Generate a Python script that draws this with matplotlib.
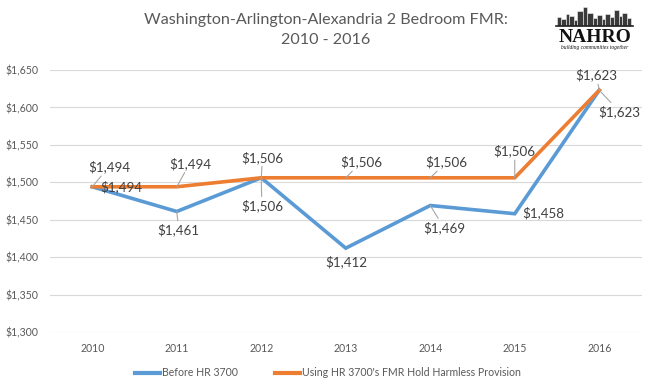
import matplotlib
matplotlib.use("Agg")
import matplotlib.pyplot as plt
from matplotlib.patches import Rectangle

years = ["2010", "2011", "2012", "2013", "2014", "2015", "2016"]
before_hr3700 = [1494, 1461, 1506, 1412, 1469, 1458, 1623]
hold_harmless = [1494, 1494, 1506, 1506, 1506, 1506, 1623]
y_ticks = [1300, 1350, 1400, 1450, 1500, 1550, 1600, 1650]
series_names = ["Before HR 3700", "Using HR 3700's FMR Hold Harmless Provision"]
title = "Washington-Arlington-Alexandria 2 Bedroom FMR:\n2010 - 2016"

# label offsets (pixels) and whether a leader line is drawn
blue_off = [(29, 0), (2, -18.5), (0.6, -28), (0.8, -14), (13.6, -22), (28.5, 1), (20.3, -21.5)]
blue_lead = [False, True, True, False, True, False, True]
orange_off = [(16.6, 20), (13.1, 23.5), (1.3, 20.5), (15.5, 15.8), (16.3, 15.8), (0, 26.8), (-3, 15.2)]
orange_lead = [True, True, True, True, True, True, True]

BLUE = "#5B9BD5"
ORANGE = "#ED7D31"
FONT = "Lato"

fig = plt.figure(figsize=(6.54, 3.90), dpi=100)
ax = fig.add_axes([50 / 654, 1 - 332 / 390, (641.5 - 50) / 654, (332 - 70) / 390])

x = list(range(len(years)))
ax.plot(x, before_hr3700, color=BLUE, lw=2.6, solid_joinstyle="miter", label=series_names[0], zorder=3)
ax.plot(x, hold_harmless, color=ORANGE, lw=2.6, solid_joinstyle="miter", label=series_names[1], zorder=4)

ax.set_xlim(-0.5, len(years) - 0.5)
ax.set_ylim(1300, 1650)
ax.set_yticks(y_ticks)
ax.set_yticklabels([f"${v:,}" for v in y_ticks], fontfamily=FONT, fontsize=7.6, color="#595959")
ax.set_xticks(x)
ax.set_xticklabels(years, fontfamily=FONT, fontsize=7.6, color="#595959")
ax.tick_params(axis="x", length=0, pad=8)
ax.tick_params(axis="y", length=0, pad=8)
ax.grid(axis="y", color="#d9d9d9", lw=0.8)
ax.set_axisbelow(True)
for s in ax.spines.values():
    s.set_visible(False)


def add_labels(vals, offs, leads):
    for i, v in enumerate(vals):
        ap = None
        if leads[i]:
            ap = dict(arrowstyle="-", color="#a6a6a6", lw=0.8, shrinkA=0, shrinkB=0)
        ax.annotate(f"${v:,}", (i, v), xytext=offs[i], textcoords="offset pixels",
                    ha="center", va="center", fontfamily=FONT, fontsize=9.6,
                    color="#404040", arrowprops=ap, zorder=5)


add_labels(before_hr3700, blue_off, blue_lead)
add_labels(hold_harmless, orange_off, orange_lead)

fig.text(326 / 654, 1 - 30 / 390, title, ha="center", va="center", fontfamily=FONT,
         fontsize=11.6, color="#595959", linespacing=1.55)

leg = fig.legend(loc="center", bbox_to_anchor=(328 / 654, 1 - 373 / 390), ncol=2, frameon=False,
                 prop=dict(family=FONT, size=7.6), handlelength=2.3, handletextpad=0.2,
                 columnspacing=3.6, labelcolor="#595959")
for line in leg.get_lines():
    line.set_linewidth(3)

# NAHRO logo
lax = fig.add_axes([553 / 654, 1 - 53 / 390, 84 / 654, 50 / 390])
lax.set_xlim(0, 84)
lax.set_ylim(0, 50)
lax.axis("off")
buildings = [(4, 4, 9), (8, 5, 7), (13, 3, 12), (16, 5, 10), (21, 3, 6), (24, 6, 15), (30, 4, 19),
             (34, 6, 13), (40, 4, 8), (44, 5, 11), (49, 3, 7), (52, 5, 12), (57, 4, 9), (61, 5, 16),
             (66, 3, 10), (69, 5, 13), (74, 4, 8)]
for bx, bw, bh in buildings:
    lax.add_patch(Rectangle((bx, 27), bw, bh, facecolor="#3a3a3a", edgecolor="#f0f0f0", lw=0.4))
lax.plot([3, 80], [27, 27], color="#222222", lw=1.2)
lax.text(42, 16, "NAHRO", ha="center", va="center", fontfamily="Liberation Serif",
         fontweight="bold", fontsize=14, color="#111111")
lax.text(42, 5, "building communities together", ha="center", va="center",
         fontfamily="Liberation Serif", fontstyle="italic", fontsize=4, color="#111111")

fig.savefig("out.png", dpi=100)
